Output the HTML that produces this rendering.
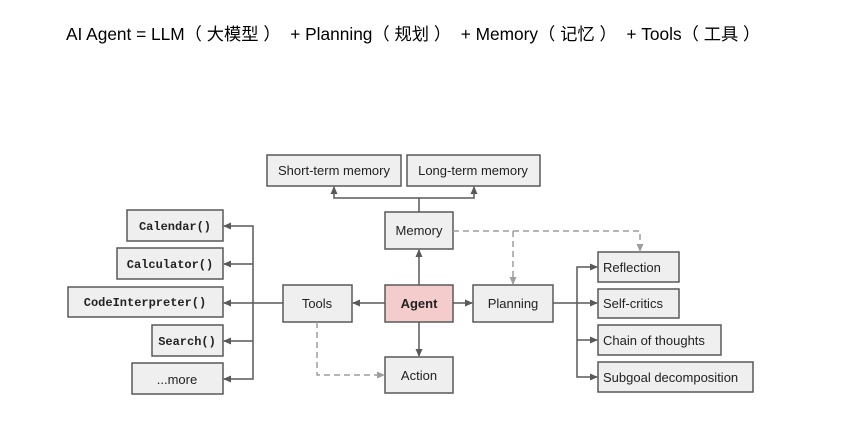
<!DOCTYPE html>
<html><head><meta charset="utf-8"><style>
body{margin:0;background:#fff;width:860px;height:441px;overflow:hidden;}
.t{position:absolute;left:66px;top:20px;font:17.3px "Liberation Sans","Noto Sans CJK SC",sans-serif;color:#000;white-space:pre;}
</style></head><body>
<div class="t">AI Agent = LLM（ 大模型 ）  + Planning（ 规划 ）  + Memory（ 记忆 ）  + Tools（ 工具 ）</div>
<svg width="860" height="441" style="position:absolute;left:0;top:0" font-family="Liberation Sans, sans-serif" font-size="13">
<defs>
<marker id="a" markerWidth="8" markerHeight="8" refX="7" refY="4" orient="auto" markerUnits="userSpaceOnUse"><path d="M0,0.5 L8,4 L0,7.5z" fill="#595959"/></marker>
<marker id="d" markerWidth="8" markerHeight="8" refX="7" refY="4" orient="auto" markerUnits="userSpaceOnUse"><path d="M0,0.5 L8,4 L0,7.5z" fill="#9e9e9e"/></marker>
</defs>
<g fill="#efefef" stroke="#595959" stroke-width="1.5">
<rect x="267" y="155" width="134" height="31"/>
<rect x="407" y="155" width="133" height="31"/>
<rect x="385" y="212" width="68" height="37"/>
<rect x="385" y="285" width="68" height="37" fill="#f4cccc"/>
<rect x="385" y="357" width="68" height="36"/>
<rect x="283" y="285" width="69" height="37"/>
<rect x="473" y="285" width="80" height="37"/>
<rect x="598" y="252" width="81" height="30"/>
<rect x="598" y="289" width="81" height="29"/>
<rect x="598" y="325" width="123" height="30"/>
<rect x="598" y="362" width="155" height="30"/>
<rect x="127" y="210" width="96" height="31"/>
<rect x="117" y="248" width="106" height="31"/>
<rect x="68" y="287" width="155" height="30"/>
<rect x="152" y="325" width="71" height="31"/>
<rect x="132" y="363" width="91" height="31"/>
</g>
<g fill="none" stroke="#595959" stroke-width="1.5">
<path d="M419,212 V198 H334 V187" marker-end="url(#a)"/>
<path d="M419,198 H474 V187" marker-end="url(#a)"/>
<path d="M419,285 V250" marker-end="url(#a)"/>
<path d="M419,322 V356" marker-end="url(#a)"/>
<path d="M385,303 H353" marker-end="url(#a)"/>
<path d="M453,303 H472" marker-end="url(#a)"/>
<path d="M283,303 H224" marker-end="url(#a)"/>
<path d="M253,303 V226 H224" marker-end="url(#a)"/>
<path d="M253,264 H224" marker-end="url(#a)"/>
<path d="M253,303 V379 H224" marker-end="url(#a)"/>
<path d="M253,341 H224" marker-end="url(#a)"/>
<path d="M553,303 H597" marker-end="url(#a)"/>
<path d="M577,303 V267 H597" marker-end="url(#a)"/>
<path d="M577,303 V377 H597" marker-end="url(#a)"/>
<path d="M577,340 H597" marker-end="url(#a)"/>
</g>
<g fill="none" stroke="#9e9e9e" stroke-width="1.5" stroke-dasharray="6,4">
<path d="M453,231 H640 V251" marker-end="url(#d)"/>
<path d="M513,231 V284" marker-end="url(#d)"/>
<path d="M317,322 V375 H384" marker-end="url(#d)"/>
</g>
<g fill="#222" text-anchor="middle">
<text x="334" y="175">Short-term memory</text>
<text x="473" y="175">Long-term memory</text>
<text x="419" y="235">Memory</text>
<text x="419" y="308" font-weight="bold">Agent</text>
<text x="419" y="380">Action</text>
<text x="317" y="308">Tools</text>
<text x="513" y="308">Planning</text>
<text x="177" y="384">...more</text>
</g>
<g fill="#222">
<text x="603" y="272">Reflection</text>
<text x="603" y="308">Self-critics</text>
<text x="603" y="345">Chain of thoughts</text>
<text x="603" y="382">Subgoal decomposition</text>
</g>
<g fill="#222" font-family="Liberation Mono, monospace" font-weight="bold" font-size="12" text-anchor="middle">
<text x="175" y="230">Calendar()</text>
<text x="170" y="268">Calculator()</text>
<text x="145" y="306">CodeInterpreter()</text>
<text x="187" y="345">Search()</text>
</g>
</svg>
</body></html>
